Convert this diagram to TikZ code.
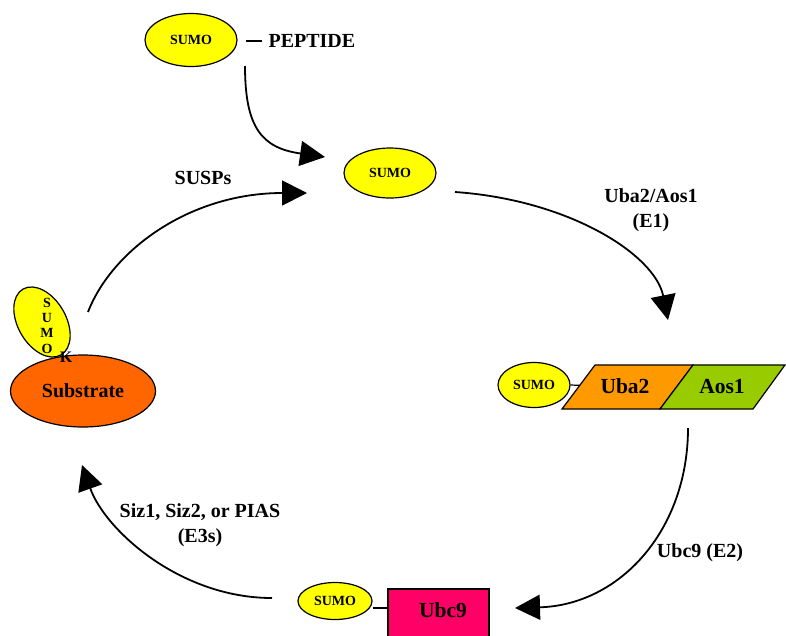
\documentclass[tikz,border=0pt]{standalone}
\usepackage{fontspec}
\setmainfont{Liberation Serif}
\usepackage{tikz}
\usetikzlibrary{arrows.meta,positioning,calc,shapes.geometric}
\definecolor{sumoyellow}{RGB}{255,255,0}
\definecolor{substrateorange}{RGB}{255,102,0}
\definecolor{ubaorange}{RGB}{255,153,0}
\definecolor{aosgreen}{RGB}{153,204,0}
\definecolor{ubcpink}{RGB}{255,0,102}

\begin{document}
\begin{tikzpicture}[x=1pt,y=-1pt,>={Triangle[length=25pt,width=25pt]}]
  \tikzstyle{sumo}=[ellipse,draw,line width=1.2pt,fill=sumoyellow,inner sep=0pt,font=\fontsize{14}{14}\selectfont\bfseries]
  \tikzstyle{lbl}=[font=\fontsize{20}{24.5}\selectfont\bfseries,align=center]
  \tikzstyle{big}=[font=\fontsize{21.5}{24}\selectfont\bfseries]
  \tikzstyle{cycle}=[->,line width=1.8pt]
  \useasboundingbox (0,0) rectangle (786,635);

  % free sumo and peptide
  \node[sumo,minimum width=92pt,minimum height=53pt] (sumotop) at (191,40) {SUMO};
  \node[lbl,anchor=west] (peptide) at (265,41) {PEPTIDE};
  \draw[line width=1.2pt] ($(sumotop.east)+(8,1)$) -- ($(peptide.west)+(-3,0)$);
  \node[sumo,minimum width=92pt,minimum height=50pt] (sumomid) at (390,173) {SUMO};

  % E1
  \node[sumo,minimum width=72pt,minimum height=45pt] (sumoE1) at (534,385) {SUMO};
  \node[big] (uba2) at (625,386) {Uba2};
  \node[big] (aos1) at (722,386) {Aos1};
  \draw[line width=1.2pt] (sumoE1.east) -- (uba2.west);
  \coordinate (u1) at (562,409);
  \coordinate (u2) at (595,365);
  \coordinate (u3) at (693,365);
  \coordinate (u4) at (660,409);
  \coordinate (a3) at (785,365);
  \coordinate (a4) at (753,409);
  \filldraw[fill=ubaorange,line width=1.2pt] (u1) -- (u2) -- (u3) -- (u4) -- cycle;
  \filldraw[fill=aosgreen,line width=1.2pt] (u4) -- (u3) -- (a3) -- (a4) -- cycle;
  \node[big] at (uba2) {Uba2};
  \node[big] at (aos1) {Aos1};

  % E2
  \node[sumo,minimum width=74pt,minimum height=37pt] (sumoE2) at (335,601) {SUMO};
  \node[draw,line width=1.2pt,fill=ubcpink,minimum width=101pt,minimum height=56pt] (ubc9box) at (438.5,617) {};
  \node[big] (ubc9) at (443,610) {Ubc9};
  \draw[line width=1.2pt] ($(sumoE2.east)+(0,7)$) -- ($(ubc9box.west)+(0,-9)$);

  % conjugated substrate
  \node[sumo,minimum width=76pt,minimum height=48pt,rotate=-60] (sumoK) at (42,322) {};
  \foreach \l/\yy in {S/303,U/318,M/333,O/349}
    \node[font=\fontsize{14}{14}\selectfont\bfseries,inner sep=0pt] (let\l) at (47,\yy) {\l};
  \node[ellipse,draw,line width=1.2pt,fill=substrateorange,minimum width=145pt,minimum height=72pt,
        font=\fontsize{20}{22}\selectfont\bfseries] (substrate) at (83,391) {Substrate};
  \node[font=\fontsize{16}{16}\selectfont\bfseries,inner sep=0pt] (lysK) at (66,357) {K};

  % cycle
  \coordinate (p1) at (245,66);
  \coordinate (p2) at (325,157);
  \coordinate (e1a) at (455,192);
  \coordinate (e1b) at (668,320);
  \coordinate (e2a) at (688,428);
  \coordinate (e2b) at (515,608);
  \coordinate (e3a) at (272,598);
  \coordinate (e3b) at (82,465);
  \coordinate (sa) at (88,312);
  \coordinate (sb) at (307,193);
  \draw[cycle] (p1) .. controls (245,128) and (262,148) .. (p2);
  \draw[cycle] (e1a) .. controls (570,200) and (655,255) .. (e1b);
  \draw[cycle] (e2a) .. controls (688,530) and (620,605) .. (e2b);
  \draw[cycle] (e3a) .. controls (180,598) and (105,530) .. (e3b);
  \draw[cycle] (sa) .. controls (112,250) and (190,193) .. (sb);

  \node[lbl] (susps) at (203,178) {SUSPs};
  \node[lbl] (e1lbl) at (651,210) {Uba2/Aos1\\(E1)};
  \node[lbl] (e2lbl) at (700,553) {Ubc9 (E2)};
  \node[lbl] (e3lbl) at (200,525) {Siz1, Siz2, or PIAS\\(E3s)};
\end{tikzpicture}
\end{document}
